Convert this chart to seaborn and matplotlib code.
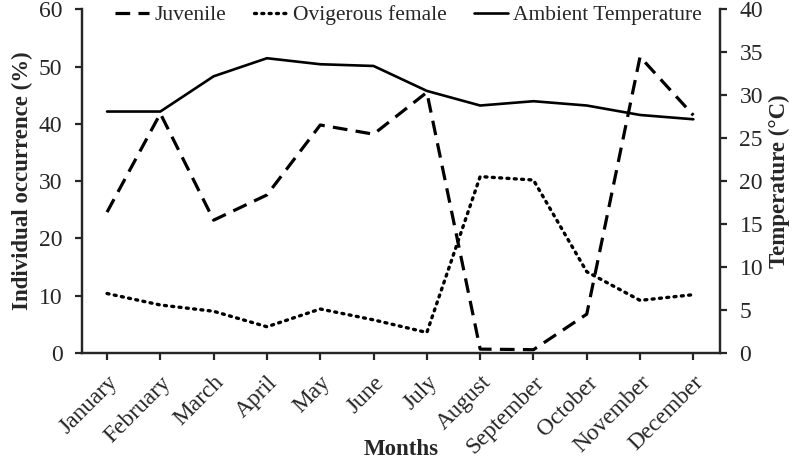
import matplotlib
matplotlib.use("Agg")
import matplotlib.pyplot as plt
import seaborn as sns
import pandas as pd

# values
months = ["January", "February", "March", "April", "May", "June",
          "July", "August", "September", "October", "November", "December"]
juvenile = [24.6, 41.8, 23.2, 27.6, 39.8, 38.2, 45.5, 0.7, 0.6, 6.8, 51.7, 41.5]
ovigerous = [10.4, 8.4, 7.3, 4.6, 7.7, 5.8, 3.6, 30.8, 30.2, 14.2, 9.2, 10.2]
temperature = [28.1, 28.1, 32.2, 34.3, 33.6, 33.4, 30.5, 28.8, 29.3, 28.8, 27.7, 27.2]

df = pd.DataFrame({"Month": months, "Juvenile": juvenile,
                   "Ovigerous": ovigerous, "Temp": temperature})

sns.set_style("ticks")
plt.rcParams["font.family"] = ["Liberation Serif", "DejaVu Serif"]
plt.rcParams["axes.linewidth"] = 1.6

fig = plt.figure(figsize=(8, 4.61), dpi=100)
ax = fig.add_axes([0.1025, 0.234, 0.7975, 0.746])
ax2 = ax.twinx()

sns.lineplot(data=df, x="Month", y="Juvenile", ax=ax, color="black",
             lw=2.3, sort=False, label="Juvenile")
ax.lines[-1].set_dashes([4.6, 2.6])
sns.lineplot(data=df, x="Month", y="Ovigerous", ax=ax, color="black",
             lw=2.4, sort=False, label="Ovigerous female")
ax.lines[-1].set_dashes([0.6, 1.6])
ax.lines[-1].set_dash_capstyle("round")
sns.lineplot(data=df, x="Month", y="Temp", ax=ax2, color="black",
             lw=1.9, sort=False, label="Ambient Temperature")

ax.set_ylim(0, 60)
ax2.set_ylim(0, 40)
ax.set_xlim(-0.47, 11.5)
ax.set_yticks(range(0, 61, 10))
ax2.set_yticks(range(0, 41, 5))

for a in (ax, ax2):
    a.spines["top"].set_visible(False)
    a.tick_params(axis="y", labelsize=17, length=5, width=1.6, direction="out", pad=9)
ax.tick_params(axis="x", labelsize=16.8, length=5, width=1.6, direction="out", pad=8.5)
plt.setp(ax.get_xticklabels(), rotation=45, ha="right", rotation_mode="anchor")

ax.set_xlabel("Months", fontsize=16.5, fontweight="bold")
ax.xaxis.set_label_coords(0.5, -0.25)
ax.set_ylabel("Individual occurrence (%)", fontsize=16.5, fontweight="bold", labelpad=4)
ax2.set_ylabel("Temperature (°C)", fontsize=16.5, fontweight="bold", labelpad=4)

h1, l1 = ax.get_legend_handles_labels()
h2, l2 = ax2.get_legend_handles_labels()
ax2.get_legend().remove()
ax.legend(h1 + h2, l1 + l2, ncol=3, loc="upper center", bbox_to_anchor=(0.512, 1.068),
          frameon=False, fontsize=15.5, handlelength=1.55, handletextpad=0.25,
          columnspacing=1.3)

fig.savefig("out.png", dpi=100)
